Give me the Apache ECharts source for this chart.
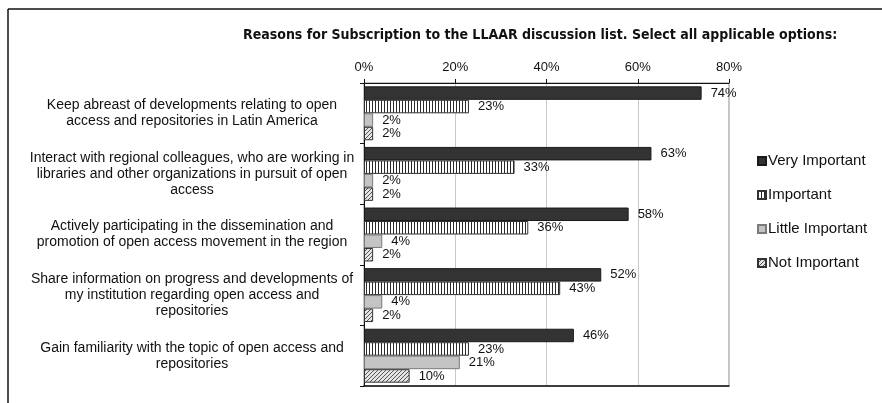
<!DOCTYPE html>
<html>
<head>
<meta charset="utf-8">
<script src="https://cdn.jsdelivr.net/npm/echarts@6/dist/echarts.min.js"></script>
<style>
  html, body { margin: 0; padding: 0; background: #fff; }
  #chart { width: 882px; height: 403px; }
</style>
</head>
<body>
<div id="chart"></div>
<script>
// Survey answers, percent of respondents
const titleText = 'Reasons for Subscription to the LLAAR discussion list. Select all applicable options:';
const reasons = [
  'Keep abreast of developments relating to open\naccess and repositories in Latin America',
  'Interact with regional colleagues, who are working in\nlibraries and other organizations in pursuit of open\naccess',
  'Actively participating in the dissemination and\npromotion of open access movement in the region',
  'Share information on progress and developments of\nmy institution regarding open access and\nrepositories',
  'Gain familiarity with the topic of open access and\nrepositories'
];
const seriesNames = ['Very Important', 'Important', 'Little Important', 'Not Important'];
const veryImportant = [74, 63, 58, 52, 46];
const important = [23, 33, 36, 43, 23];
const littleImportant = [2, 2, 4, 4, 21];
const notImportant = [2, 2, 2, 2, 10];
const percentTicks = [0, 20, 40, 60, 80];

// Fill patterns for the striped and hatched bars
function stripePattern() {
  const c = document.createElement('canvas');
  c.width = 3; c.height = 4;
  const g = c.getContext('2d');
  g.fillStyle = '#ffffff'; g.fillRect(0, 0, 3, 4);
  g.fillStyle = '#2a2a2a'; g.fillRect(0, 0, 1, 4);
  return { image: c, repeat: 'repeat' };
}
function hatchPattern() {
  const c = document.createElement('canvas');
  c.width = 4; c.height = 4;
  const g = c.getContext('2d');
  g.fillStyle = '#e4e4e4'; g.fillRect(0, 0, 4, 4);
  g.strokeStyle = '#555555'; g.lineWidth = 1;
  g.beginPath();
  g.moveTo(0, 4); g.lineTo(4, 0);
  g.moveTo(-1, 1); g.lineTo(1, -1);
  g.moveTo(3, 5); g.lineTo(5, 3);
  g.stroke();
  return { image: c, repeat: 'repeat' };
}

const fills = [
  { color: '#333333', borderColor: '#1a1a1a' },
  { color: stripePattern(), borderColor: '#333333' },
  { color: '#c4c4c4', borderColor: '#7a7a7a' },
  { color: hatchPattern(), borderColor: '#333333' }
];
const values = [veryImportant, important, littleImportant, notImportant];

const font = 'Liberation Sans, Arial, sans-serif';

const chart = echarts.init(document.getElementById('chart'), null, { renderer: 'canvas' });
chart.setOption({
  animation: false,
  backgroundColor: '#ffffff',
  textStyle: { fontFamily: font },
  title: {
    text: titleText,
    left: 238,
    top: 23,
    textStyle: {
      fontFamily: 'Liberation Sans Narrow, Arial Narrow, DejaVu Sans Condensed, sans-serif',
      fontWeight: 'bold',
      fontSize: 14,
      color: '#111'
    }
  },
  graphic: [
    { type: 'line', shape: { x1: 8, y1: 9, x2: 882, y2: 9 }, style: { stroke: '#111', lineWidth: 1.5 } },
    { type: 'line', shape: { x1: 8, y1: 9, x2: 8, y2: 403 }, style: { stroke: '#111', lineWidth: 1.5 } }
  ],
  legend: {
    orient: 'vertical',
    left: 752,
    top: 148,
    icon: 'rect',
    itemWidth: 8,
    itemHeight: 8,
    itemGap: 18,
    data: seriesNames,
    textStyle: { fontFamily: font, fontSize: 15, color: '#111', lineHeight: 16, padding: [0, 0, 0, -3] }
  },
  grid: {
    left: 364,
    right: 153,
    top: 83,
    bottom: 17,
    show: true,
    borderColor: '#8a8a8a',
    borderWidth: 1
  },
  xAxis: [
    {
      type: 'value',
      position: 'top',
      min: percentTicks[0],
      max: percentTicks[percentTicks.length - 1],
      interval: 20,
      axisLine: { show: true, lineStyle: { color: '#111', width: 1 } },
      axisTick: { show: true, length: 4, lineStyle: { color: '#111' } },
      axisLabel: { formatter: '{value}%', fontSize: 13, color: '#111', margin: 9 },
      splitLine: { show: true, lineStyle: { color: '#c8c8c8', width: 1 } }
    },
    {
      type: 'value',
      position: 'bottom',
      min: percentTicks[0],
      max: percentTicks[percentTicks.length - 1],
      axisLine: { show: true, lineStyle: { color: '#111', width: 1.5 } },
      axisTick: { show: false },
      axisLabel: { show: false },
      splitLine: { show: false }
    }
  ],
  yAxis: {
    type: 'category',
    inverse: true,
    data: reasons,
    axisLine: { show: true, lineStyle: { color: '#111' } },
    axisTick: { show: true, length: 4, lineStyle: { color: '#111' } },
    axisLabel: {
      align: 'center',
      margin: 172,
      fontSize: 14,
      lineHeight: 16,
      color: '#111'
    }
  },
  series: seriesNames.map((name, i) => ({
    name: name,
    type: 'bar',
    xAxisIndex: 0,
    data: values[i],
    barGap: 0,
    barCategoryGap: '11%',
    itemStyle: { color: fills[i].color, borderColor: fills[i].borderColor, borderWidth: 1 },
    label: {
      show: true,
      position: 'right',
      distance: 9,
      formatter: '{c}%',
      fontSize: 13,
      color: '#111'
    }
  }))
});
</script>
</body>
</html>
